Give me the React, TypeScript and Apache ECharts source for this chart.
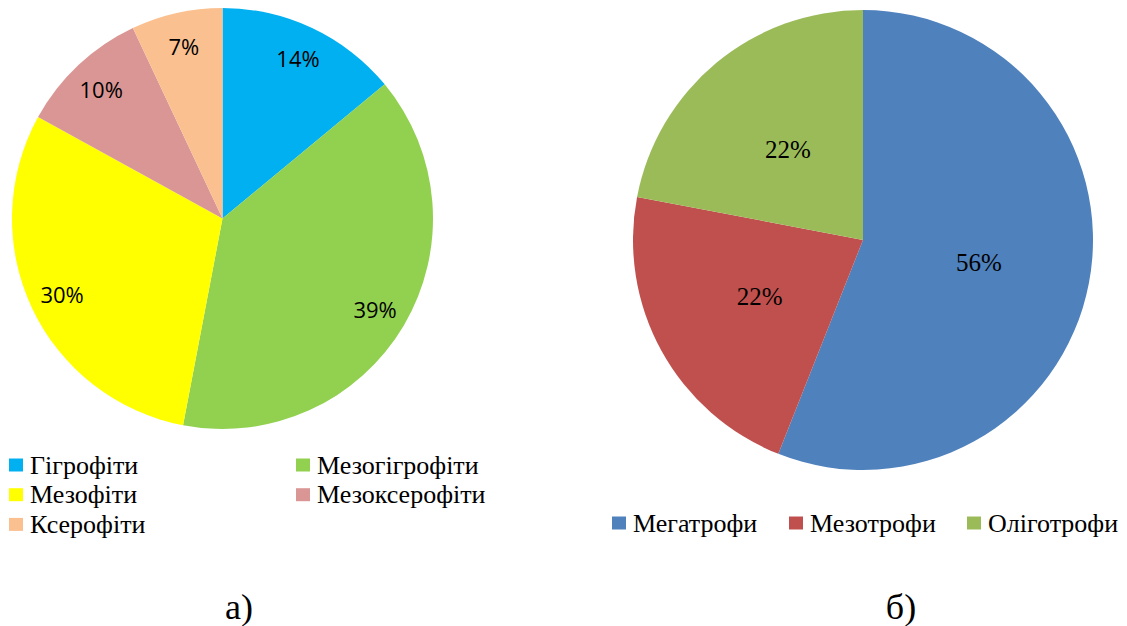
import React, { useEffect, useRef } from "react";
import * as echarts from "echarts";

const hygroCategories = ["Гігрофіти", "Мезогігрофіти", "Мезофіти", "Мезоксерофіти", "Ксерофіти"];
const hygroValues = [14, 39, 30, 10, 7];
const hygroColors = ["#00B0F0", "#92D050", "#FFFF00", "#DA9694", "#FAC090"];

const trophCategories = ["Мегатрофи", "Мезотрофи", "Оліготрофи"];
const trophValues = [56, 22, 22];
const trophColors = ["#4F81BD", "#C0504D", "#9BBB59"];

const captions = ["а)", "б)"];

const SERIF = "Liberation Serif";
const SANS = "Open Sans";

export default function App() {
  const ref = useRef<HTMLDivElement>(null);

  useEffect(() => {
    if (!ref.current) return;
    const chart = echarts.init(ref.current, null, { renderer: "svg" });

    const hygroData = hygroCategories.map((name, i) => ({
      name,
      value: hygroValues[i],
      itemStyle: { color: hygroColors[i] },
    }));
    const hygroLabelData = hygroCategories.map((name, i) => ({
      name: "lbl_" + i,
      value: hygroValues[i],
      itemStyle: { color: "rgba(0,0,0,0)" },
    }));
    const trophData = trophCategories.map((name, i) => ({
      name,
      value: trophValues[i],
      itemStyle: { color: trophColors[i] },
    }));

    const richStyles = {
      l: { fontFamily: SANS, fontSize: 22, color: "#000" },
      r: { fontFamily: SERIF, fontSize: 25, color: "#000" },
    };

    const legendText = { fontSize: 26, fontFamily: SERIF, color: "#000", lineHeight: 25, padding: [0, 0, 0, 2] };
    const legendBase = {
      padding: 0,
      itemWidth: 14,
      itemHeight: 13,
      icon: "rect",
      selectedMode: false,
      textStyle: legendText,
    };

    chart.setOption({
      animation: false,
      backgroundColor: "#ffffff",
      legend: [
        {
          ...legendBase,
          orient: "vertical",
          left: 9,
          top: 452,
          itemGap: 3.7,
          data: [hygroCategories[0], hygroCategories[2], hygroCategories[4]],
        },
        {
          ...legendBase,
          orient: "vertical",
          left: 296,
          top: 452,
          itemGap: 3.7,
          data: [hygroCategories[1], hygroCategories[3]],
        },
        ...trophCategories.map((name, i) => ({
          ...legendBase,
          orient: "horizontal",
          left: [612, 789, 967][i],
          top: 510,
          data: [name],
        })),
      ],
      graphic: [
        {
          type: "text",
          x: 239,
          y: 607,
          style: {
            text: captions[0],
            fontSize: 36,
            fontFamily: SERIF,
            fill: "#000",
            align: "center",
            verticalAlign: "middle",
          },
        },
        {
          type: "text",
          x: 901,
          y: 607,
          style: {
            text: captions[1],
            fontSize: 36,
            fontFamily: SERIF,
            fill: "#000",
            align: "center",
            verticalAlign: "middle",
          },
        },
      ],
      series: [
        {
          type: "pie",
          center: [222.5, 218.5],
          radius: [0, 210.5],
          startAngle: 90,
          clockwise: true,
          silent: true,
          label: { show: false },
          labelLine: { show: false },
          itemStyle: { borderWidth: 0 },
          data: hygroData,
        },
        {
          type: "pie",
          center: [222.5, 218.5],
          radius: [138, 210.5],
          startAngle: 90,
          clockwise: true,
          silent: true,
          avoidLabelOverlap: false,
          label: {
            show: true,
            position: "inside",
            formatter: "{l|{c}%}",
            rich: richStyles,
          },
          labelLine: { show: false },
          itemStyle: { borderWidth: 0 },
          data: hygroLabelData,
        },
        {
          type: "pie",
          center: [863, 240],
          radius: [0, 230],
          startAngle: 90,
          clockwise: true,
          silent: true,
          avoidLabelOverlap: false,
          label: {
            show: true,
            position: "inside",
            formatter: "{r|{c}%}",
            rich: richStyles,
          },
          labelLine: { show: false },
          itemStyle: { borderWidth: 0 },
          data: trophData,
        },
      ],
    });

    return () => {
      chart.dispose();
    };
  }, []);

  return (
    <div
      ref={ref}
      style={{ position: "absolute", left: 0, top: 0, width: 1127, height: 626, background: "#fff" }}
    />
  );
}
